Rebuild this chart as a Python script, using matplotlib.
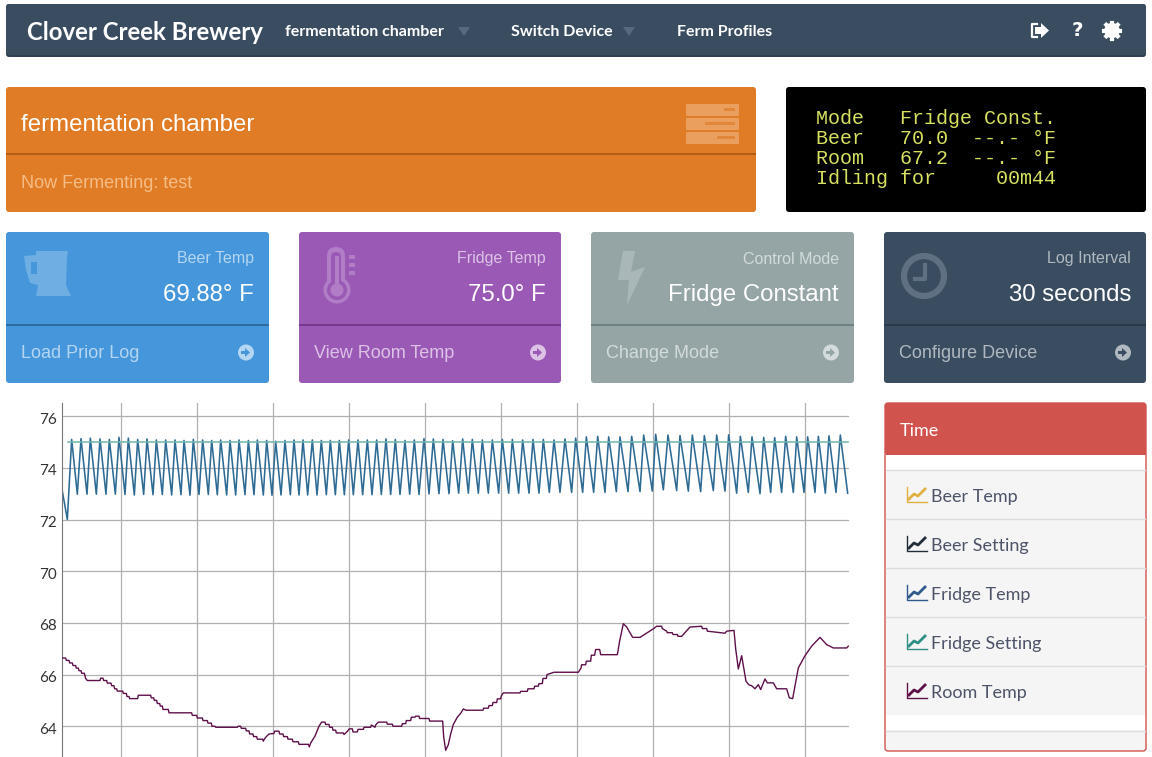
import matplotlib.pyplot as plt
from matplotlib.patches import Circle, FancyBboxPatch, Polygon, Rectangle
from matplotlib.transforms import ScaledTranslation

# samples along the x axis, grid lines every 228 samples
fridge_start_x = [0, 15]
fridge_start_y = [73.1, 72.0]
fridge_peak_x = [
    28, 56, 84, 113, 141, 170, 198, 226, 254, 282,
    310, 338, 365, 393, 421, 448, 475, 503, 530, 558,
    585, 613, 640, 668, 695, 722, 750, 777, 804, 831,
    859, 887, 915, 943, 971, 999, 1028, 1056, 1085, 1113,
    1142, 1171, 1201, 1230, 1260, 1290, 1320, 1350, 1381, 1412,
    1443, 1475, 1508, 1540, 1572, 1606, 1639, 1673, 1708, 1744,
    1780, 1817, 1853, 1890, 1926, 1963, 1999, 2034, 2069, 2104,
    2137, 2170, 2203, 2236, 2268, 2300, 2334,
]
fridge_peak_y = [
    75.10, 75.13, 75.15, 75.12, 75.10, 75.18, 75.15, 75.10, 75.12, 75.08,
    75.08, 75.08, 75.06, 75.10, 75.08, 75.06, 75.08, 75.06, 75.08, 75.06,
    75.08, 75.06, 75.03, 75.06, 75.08, 75.08, 75.08, 75.06, 75.06, 75.06,
    75.08, 75.08, 75.08, 75.08, 75.12, 75.10, 75.06, 75.08, 75.13, 75.12,
    75.10, 75.05, 75.12, 75.10, 75.08, 75.08, 75.10, 75.10, 75.08, 75.10,
    75.10, 75.08, 75.12, 75.15, 75.20, 75.22, 75.20, 75.20, 75.22, 75.27,
    75.30, 75.27, 75.25, 75.27, 75.25, 75.27, 75.28, 75.22, 75.20, 75.18,
    75.17, 75.22, 75.20, 75.20, 75.22, 75.24, 75.27,
]
fridge_trough_x = [
    45, 74, 102, 131, 159, 188, 216, 244, 272, 300,
    328, 356, 383, 410, 438, 465, 493, 520, 548, 575,
    603, 629, 656, 684, 710, 736, 764, 792, 819, 846,
    873, 901, 929, 957, 985, 1013, 1042, 1070, 1100, 1130,
    1160, 1189, 1218, 1248, 1278, 1309, 1339, 1369, 1400, 1430,
    1461, 1493, 1528, 1561, 1594, 1628, 1662, 1697, 1733, 1770,
    1803, 1843, 1878, 1915, 1953, 1988, 2023, 2058, 2093, 2125,
    2158, 2193, 2225, 2258, 2289, 2321, 2356,
]
fridge_trough_y = [
    72.98, 72.98, 72.98, 72.98, 72.98, 72.97, 72.95, 72.97, 72.96, 72.97,
    72.95, 72.96, 72.94, 72.97, 72.97, 72.96, 72.95, 72.95, 72.96, 72.96,
    72.95, 72.94, 72.95, 72.96, 72.95, 72.95, 72.95, 72.96, 72.96, 72.96,
    72.96, 72.96, 72.96, 72.97, 72.97, 72.97, 72.98, 72.97, 72.99, 73.00,
    73.00, 73.02, 73.02, 73.02, 73.02, 73.02, 73.02, 73.02, 73.02, 73.02,
    73.05, 73.05, 73.05, 73.05, 73.05, 73.05, 73.08, 73.08, 73.08, 73.10,
    73.15, 73.12, 73.10, 73.08, 73.12, 73.10, 73.02, 73.05, 73.00, 73.05,
    73.05, 73.05, 73.05, 73.05, 73.02, 73.05, 73.02,
]
setting_x = [18, 2358]
setting_y = [75.0, 75.0]
room_x = [
    0, 10, 12, 20, 22, 30, 32, 40, 42, 48,
    50, 56, 58, 66, 68, 70, 75, 113, 115, 122,
    124, 133, 135, 146, 148, 155, 157, 163, 165, 181,
    183, 192, 194, 200, 202, 226, 228, 265, 267, 274,
    276, 283, 285, 292, 294, 300, 302, 318, 320, 388,
    390, 403, 405, 420, 422, 435, 437, 447, 449, 458,
    460, 525, 527, 535, 537, 550, 552, 560, 562, 572,
    574, 583, 585, 601, 603, 606, 612, 620, 635, 637,
    650, 652, 662, 664, 675, 677, 690, 692, 708, 710,
    738, 741, 745, 758, 770, 778, 788, 790, 800, 802,
    810, 812, 820, 822, 843, 845, 855, 861, 870, 872,
    885, 887, 903, 905, 925, 927, 938, 940, 948, 973,
    975, 990, 992, 1018, 1020, 1030, 1032, 1045, 1047, 1058,
    1060, 1070, 1072, 1100, 1102, 1141, 1144, 1150, 1158, 1165,
    1173, 1185, 1195, 1203, 1211, 1262, 1264, 1278, 1280, 1290,
    1292, 1303, 1305, 1315, 1317, 1323, 1373, 1375, 1395, 1397,
    1415, 1417, 1428, 1430, 1440, 1442, 1452, 1454, 1475, 1548,
    1556, 1558, 1570, 1572, 1585, 1587, 1597, 1600, 1612, 1615,
    1665, 1672, 1683, 1693, 1711, 1733, 1750, 1773, 1783, 1798,
    1800, 1813, 1815, 1830, 1832, 1845, 1847, 1858, 1870, 1883,
    1918, 1920, 1933, 1935, 1988, 1993, 2015, 2020, 2028, 2038,
    2051, 2060, 2068, 2078, 2088, 2095, 2108, 2115, 2133, 2143,
    2173, 2181, 2191, 2200, 2208, 2228, 2248, 2273, 2293, 2313,
    2353, 2358,
]
room_y = [
    66.64, 66.64, 66.55, 66.55, 66.45, 66.45, 66.35, 66.35, 66.25, 66.25,
    66.15, 66.15, 66.05, 66.05, 65.95, 65.85, 65.77, 65.77, 65.86, 65.86,
    65.77, 65.77, 65.67, 65.67, 65.57, 65.57, 65.45, 65.45, 65.36, 65.36,
    65.27, 65.27, 65.15, 65.15, 65.07, 65.07, 65.20, 65.20, 65.10, 65.10,
    65.00, 65.00, 64.88, 64.88, 64.78, 64.78, 64.65, 64.65, 64.52, 64.52,
    64.42, 64.42, 64.32, 64.32, 64.22, 64.22, 64.12, 64.12, 64.00, 64.00,
    63.96, 63.96, 64.00, 64.00, 63.92, 63.92, 63.82, 63.82, 63.70, 63.70,
    63.60, 63.60, 63.50, 63.50, 63.42, 63.50, 63.60, 63.70, 63.72, 63.81,
    63.81, 63.70, 63.70, 63.60, 63.60, 63.50, 63.50, 63.40, 63.40, 63.30,
    63.30, 63.20, 63.35, 63.62, 64.00, 64.16, 64.16, 64.07, 64.07, 63.96,
    63.96, 63.85, 63.85, 63.74, 63.74, 63.68, 63.80, 63.90, 63.90, 63.78,
    63.78, 63.88, 63.88, 63.96, 63.96, 64.05, 63.96, 64.05, 64.16, 64.16,
    64.08, 64.08, 64.00, 64.00, 64.10, 64.10, 64.22, 64.22, 64.35, 64.35,
    64.39, 64.39, 64.30, 64.30, 64.20, 64.20, 63.60, 63.07, 63.29, 63.70,
    64.07, 64.35, 64.50, 64.67, 64.62, 64.62, 64.70, 64.70, 64.80, 64.80,
    64.92, 64.92, 65.06, 65.06, 65.18, 65.29, 65.29, 65.35, 65.35, 65.45,
    65.45, 65.55, 65.55, 65.65, 65.65, 65.85, 65.85, 66.00, 66.09, 66.09,
    66.25, 66.38, 66.38, 66.52, 66.52, 66.75, 66.75, 66.97, 66.97, 66.77,
    66.77, 67.30, 67.97, 67.84, 67.44, 67.44, 67.58, 67.77, 67.87, 67.87,
    67.78, 67.68, 67.62, 67.62, 67.55, 67.55, 67.48, 67.48, 67.65, 67.84,
    67.87, 67.78, 67.78, 67.68, 67.60, 67.68, 67.71, 67.00, 66.22, 66.73,
    65.74, 65.60, 65.57, 65.45, 65.61, 65.42, 65.83, 65.68, 65.68, 65.45,
    65.45, 65.10, 65.07, 65.70, 66.26, 66.73, 67.10, 67.44, 67.16, 67.03,
    67.03, 67.10,
]
y_ticks = [64, 66, 68, 70, 72, 74, 76]
x_ticks = [177, 405, 633, 861, 1089, 1317, 1545, 1773, 2001, 2229]

card_titles = ["Beer Temp", "Fridge Temp", "Control Mode", "Log Interval"]
card_values = ["69.88° F", "75.0° F", "Fridge Constant", "30 seconds"]
card_links = ["Load Prior Log", "View Room Temp", "Change Mode", "Configure Device"]
card_colors = ["#4596da", "#9b59b6", "#95a5a6", "#3a4d60"]
card_lines = ["#2e6da4", "#763a8c", "#6f8282", "#2b3a4a"]
card_faded = ["#b5d6f2", "#dcc3e6", "#d3dbdb", "#b0b8c0"]
card_left = [6, 299, 591, 884]
card_right = [269, 561, 854, 1146]

legend_names = ["Beer Temp", "Beer Setting", "Fridge Temp", "Fridge Setting", "Room Temp"]
legend_colors = ["#e0b040", "#222d3a", "#2d5a8a", "#2f8f85", "#5e1147"]
lcd_lines = [
    "Mode   Fridge Const.",
    "Beer   70.0  --.- °F",
    "Room   67.2  --.- °F",
    "Idling for     00m44",
]


def box(ax, x0, y0, x1, y1, color, edge="none", radius=3):
    ax.add_patch(
        FancyBboxPatch(
            (x0, y0), x1 - x0, y1 - y0,
            boxstyle=f"round,pad=0,rounding_size={radius}",
            facecolor=color, edgecolor=edge, linewidth=1,
        )
    )


def bar(ax, x0, y0, x1, y1, color):
    ax.add_patch(Rectangle((x0, y0), x1 - x0, y1 - y0, facecolor=color, linewidth=0))


def write(ax, x, y, words, size, color="white", ha="left", family="Liberation Sans", weight="normal"):
    ax.text(x, y + 2, words, fontsize=size * 0.72, color=color, ha=ha, va="center", family=family, weight=weight)


def draw_page(ax):
    # nav bar
    box(ax, 6, 4, 1146, 57, "#2f3f4f")
    box(ax, 6, 4, 1146, 55, "#3a4d60")
    write(ax, 27, 30, "Clover Creek Brewery", 24, family="Lato", weight="bold")
    write(ax, 285, 30, "fermentation chamber", 16, family="Lato", weight="bold")
    write(ax, 511, 30, "Switch Device", 16, family="Lato", weight="bold")
    write(ax, 677, 30, "Ferm Profiles", 16, family="Lato", weight="bold")
    ax.add_patch(Polygon([(458, 27), (470, 27), (464, 36)], facecolor="#566a7d", linewidth=0))
    ax.add_patch(Polygon([(623, 27), (635, 27), (629, 36)], facecolor="#566a7d", linewidth=0))
    ax.plot([1037, 1032, 1032, 1037], [24, 24, 37, 37], color="white", lw=1.6)  # sign out icon
    ax.add_patch(Polygon([(1035, 27), (1041, 27), (1041, 23), (1049, 30.5), (1041, 38), (1041, 34), (1035, 34)], facecolor="white", linewidth=0))
    write(ax, 1077, 29, "?", 20, ha="center", family="DejaVu Sans", weight="bold")
    ax.add_patch(Circle((1112, 30.5), 5.5, facecolor="none", edgecolor="white", linewidth=3.2))  # gear icon
    ax.plot([1112, 1112], [22.5, 38.5], color="white", lw=3)
    ax.plot([1104, 1120], [30.5, 30.5], color="white", lw=3)
    ax.plot([1106.3, 1117.7], [24.8, 36.2], color="white", lw=3)
    ax.plot([1106.3, 1117.7], [36.2, 24.8], color="white", lw=3)
    ax.add_patch(Circle((1112, 30.5), 3, facecolor="#3a4d60", linewidth=0))

    # device panel
    box(ax, 6, 87, 756, 212, "#e07c26")
    bar(ax, 6, 153, 756, 155, "#b35e14")
    write(ax, 21, 123, "fermentation chamber", 24)
    write(ax, 21, 182, "Now Fermenting: test", 18, color="#f5bd85")
    for top, dash_left, dash_right in [(104, 724, 735), (118, 705, 735), (132, 717, 735)]:
        box(ax, 686, top, 739, top + 12, "#ea9f5f", radius=1)
        bar(ax, dash_left, top + 4, dash_right, top + 6.5, "#e2873a")

    # lcd panel
    box(ax, 786, 87, 1146, 212, "black")
    for i, line in enumerate(lcd_lines):
        write(ax, 816, 116 + i * 20, line, 20, color="#d8e060", family="Liberation Mono")

    # four cards
    for i in range(4):
        left, right = card_left[i], card_right[i]
        box(ax, left, 232, right, 383, card_colors[i])
        bar(ax, left, 324, right, 326, card_lines[i])
        write(ax, right - 15, 257, card_titles[i], 16, color=card_faded[i], ha="right")
        write(ax, right - 15, 293, card_values[i], 24, ha="right")
        write(ax, left + 15, 351.5, card_links[i], 18, color=card_faded[i])
        ax.add_patch(Circle((right - 23, 352.5), 8, facecolor=card_faded[i], linewidth=0))
        ax.add_patch(Polygon(
            [(right - 28, 351), (right - 24, 351), (right - 24, 348), (right - 19, 352.5),
             (right - 24, 357), (right - 24, 354), (right - 28, 354)],
            facecolor=card_colors[i], linewidth=0,
        ))

    # card icons
    ax.add_patch(Polygon(
        [(24, 256), (36, 255), (36, 251), (68, 251), (67, 258), (66, 285), (71, 296), (36, 296), (38, 285), (30, 283), (26, 270)],
        facecolor="#6eaee3", linewidth=0,
    ))
    bar(ax, 31, 262, 37, 274, "#4596da")
    ax.add_patch(Circle((337, 290), 13.5, facecolor="#b07dc6", linewidth=0))
    ax.add_patch(FancyBboxPatch((327, 247), 18, 40, boxstyle="round,pad=0,rounding_size=9", facecolor="#b07dc6", linewidth=0))
    ax.add_patch(Circle((337, 290), 10, facecolor="#9b59b6", linewidth=0))
    ax.add_patch(FancyBboxPatch((331, 252), 10, 36, boxstyle="round,pad=0,rounding_size=5", facecolor="#9b59b6", linewidth=0))
    ax.add_patch(Circle((337, 290), 6.5, facecolor="#b07dc6", linewidth=0))
    bar(ax, 335, 256, 339, 288, "#b07dc6")
    for top in [255, 263, 271]:
        bar(ax, 349, top, 355, top + 4, "#b07dc6")
    ax.add_patch(Polygon([(623, 251), (635, 251), (631, 272), (645, 267), (627, 305), (629, 280), (618, 280)], facecolor="#aab7b8", linewidth=0))
    ax.add_patch(Circle((924, 276), 20, facecolor="none", edgecolor="#5f7082", linewidth=4.5))
    ax.plot([925, 925, 915], [265, 279, 279], color="#5f7082", lw=3)

    # legend panel
    box(ax, 885, 403, 1146, 751, "#f5f5f5", edge="#d1534e")
    box(ax, 885, 403, 1146, 455, "#d1534e")
    bar(ax, 885.5, 450, 1145.5, 455, "#d1534e")
    bar(ax, 885.7, 455, 1145.3, 470, "white")
    bar(ax, 885.7, 715, 1145.3, 730, "white")
    write(ax, 900, 429, "Time", 18, family="Lato")
    for i, name in enumerate(legend_names):
        mid = 495 + i * 49
        ax.plot([885.7, 1145.3], [mid - 25, mid - 25], color="#dddddd", lw=1)
        write(ax, 931, mid, name, 18, color="#4d5468", family="Lato")
        ax.plot([907, 907, 927], [mid - 8, mid + 7, mid + 7], color=legend_colors[i], lw=1)
        ax.plot([909, 914, 918, 925], [mid + 4, mid - 1, mid + 1, mid - 6], color=legend_colors[i], lw=2)
    ax.plot([885.7, 1145.3], [730.5, 730.5], color="#dddddd", lw=1)


fig = plt.figure(figsize=(11.52, 7.57), dpi=100)
page = fig.add_axes([0, 0, 1, 1])
page.set_xlim(0, 1152)
page.set_ylim(757, 0)
page.axis("off")
draw_page(page)

ax = fig.add_axes([62.33 / 1152, 0, (849 - 62.33) / 1152, 354 / 757])
fridge_x = list(fridge_start_x)
fridge_y = list(fridge_start_y)
for i in range(len(fridge_peak_x)):
    fridge_x += [fridge_peak_x[i], fridge_trough_x[i]]
    fridge_y += [fridge_peak_y[i], fridge_trough_y[i]]
ax.plot(setting_x, setting_y, color="#6fb5ab", lw=1.1, zorder=3)
ax.plot(fridge_x, fridge_y, color="#2d6b94", lw=1.15, zorder=2)
ax.plot(room_x, room_y, color="#5e0f4a", lw=1, zorder=3)
ax.set_xlim(0, 2360)
ax.set_ylim(62.81, 76.51)
ax.set_xticks(x_ticks)
ax.set_xticklabels([])
ax.set_yticks(y_ticks)
ax.tick_params(axis="x", length=0)
ax.tick_params(axis="y", length=0, pad=4, labelsize=11, labelcolor="#333333")
nudge = ScaledTranslation(0, -2 / 100, fig.dpi_scale_trans)  # labels sit just under their grid line
for label in ax.get_yticklabels():
    label.set_family("Lato")
    label.set_transform(label.get_transform() + nudge)
ax.grid(True, color="#b0b0b0", lw=0.9)
ax.set_axisbelow(True)
ax.patch.set_alpha(0)
for side in ["top", "right", "bottom"]:
    ax.spines[side].set_visible(False)
ax.spines["left"].set_color("#777777")

fig.savefig("out.png", dpi=100)
